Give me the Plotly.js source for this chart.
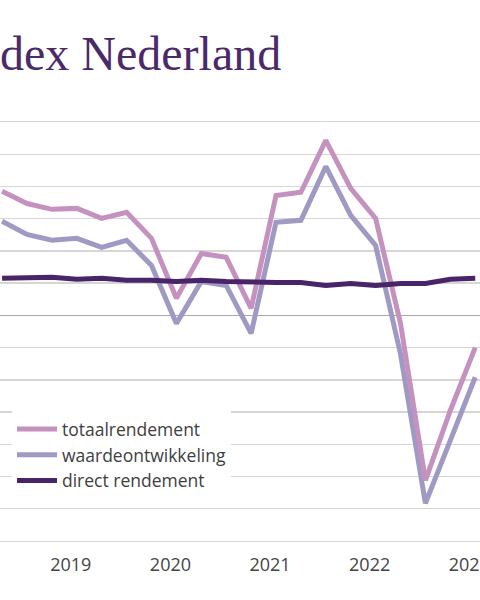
<!DOCTYPE html>
<html>
<head>
<meta charset="utf-8">
<script src="https://cdn.plot.ly/plotly-3.0.1.min.js"></script>
<style>html,body{margin:0;padding:0;background:#fff;}#chart{width:480px;height:600px;}</style>
</head>
<body>
<div id="chart"></div>
<script>
// Quarters shown (year, quarter)
const quarterYear = [2018,2018,2019,2019,2019,2019,2020,2020,2020,2020,2021,2021,2021,2021,2022,2022,2022,2022,2023,2023];
const quarterNum  = [3,4,1,2,3,4,1,2,3,4,1,2,3,4,1,2,3,4,1,2];

// Quarterly returns (%)
const totaalrendement   = [3.85,3.47,3.29,3.32,3.01,3.20,2.39,0.53,1.92,1.80,0.22,3.72,3.82,5.43,3.94,3.01,-0.25,-5.12,-2.95,-1.00];
const waardeontwikkeling= [2.92,2.51,2.33,2.39,2.11,2.33,1.55,-0.25,1.05,0.93,-0.56,2.89,2.95,4.62,3.10,2.17,-1.20,-5.83,-3.88,-1.92];
const directRendement   = [1.15,1.15,1.18,1.12,1.15,1.09,1.09,1.05,1.09,1.05,1.02,1.02,1.02,0.93,0.99,0.93,0.99,0.99,1.12,1.15];

const yearLabels = ["2019","2020","2021","2022","2023"];
const seriesNames = ["totaalrendement","waardeontwikkeling","direct rendement"];

const xq = quarterYear.map((y,i)=> y + (quarterNum[i]-1)/4);
const tickPos = yearLabels.map(l => Number(l) + 0.19);

const traces = [
  {x:xq, y:waardeontwikkeling, name:seriesNames[1], legendrank:2, mode:'lines',
   line:{color:'#9e9ac4', width:5}},
  {x:xq, y:totaalrendement, name:seriesNames[0], legendrank:1, mode:'lines',
   line:{color:'#c592bf', width:5}},
  {x:xq, y:directRendement, name:seriesNames[2], legendrank:3, mode:'lines',
   line:{color:'#4a2468', width:5}}
];

const layout = {
  width:480, height:600,
  margin:{l:0, r:0, t:122, b:59},
  paper_bgcolor:'#fff', plot_bgcolor:'#fff',
  title:{text:'dex Nederland', xref:'container', x:0, xanchor:'left',
         yref:'container', y:0.912, yanchor:'middle', pad:{l:0,r:0,t:0,b:0},
         font:{family:'Liberation Serif, serif', size:48, color:'#4a2a6a'}},
  xaxis:{range:[2018.479, 2023.298], tickmode:'array', tickvals:tickPos, ticktext:yearLabels,
         showgrid:false, zeroline:false, showline:true, mirror:true, linecolor:'#d6d6d6', linewidth:1.3,
         ticks:'', ticklabelstandoff:7, ticklabeloverflow:'allow',
         tickfont:{family:'Open Sans, sans-serif', size:18, color:'#444'}, fixedrange:true},
  yaxis:{range:[-7,6], dtick:1, tick0:0, showticklabels:false, ticks:'',
         showgrid:true, gridcolor:'#d6d6d6', gridwidth:1.3,
         zeroline:true, zerolinecolor:'#a9a9a9', zerolinewidth:1.3, showline:false, fixedrange:true},
  showlegend:true,
  legend:{x:0.025, xanchor:'left', y:0.31, yanchor:'top', bgcolor:'#fff', borderwidth:0,
          font:{family:'Open Sans, sans-serif', size:17.5, color:'#404040'},
          itemwidth:40, traceorder:'normal'}
};

Plotly.newPlot('chart', traces, layout, {displayModeBar:false, staticPlot:true});
</script>
</body>
</html>
